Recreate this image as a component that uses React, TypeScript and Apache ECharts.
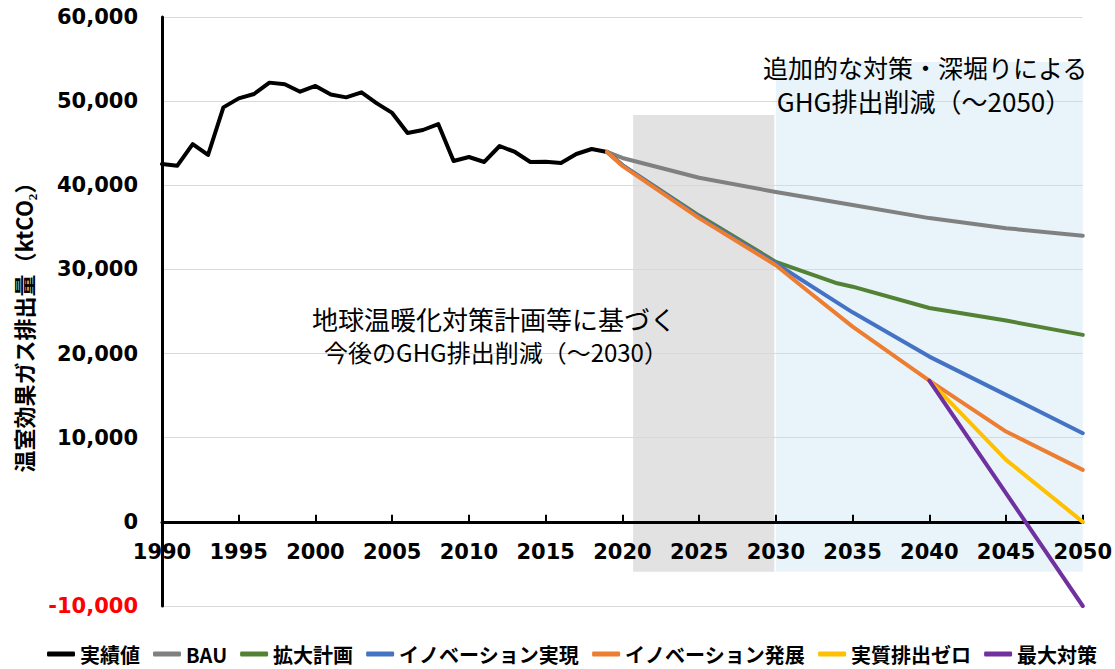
import React, { useEffect, useRef } from "react";
import * as echarts from "echarts";

// ---- data ----
const histYears = [1990, 1991, 1992, 1993, 1994, 1995, 1996, 1997, 1998, 1999, 2000, 2001, 2002, 2003, 2004, 2005, 2006, 2007, 2008, 2009, 2010, 2011, 2012, 2013, 2014, 2015, 2016, 2017, 2018, 2019];
const histValues = [42520, 42330, 44900, 43600, 49260, 50330, 50850, 52200, 52000, 51120, 51800, 50800, 50450, 51050, 49740, 48600, 46210, 46570, 47280, 42890, 43360, 42770, 44670, 43960, 42770, 42800, 42650, 43720, 44310, 43960];

const bauYears = [2019, 2020, 2025, 2030, 2035, 2040, 2045, 2050];
const bauValues = [43960, 43250, 40900, 39200, 37660, 36100, 34900, 34010];

const expandYears = [2019, 2020, 2025, 2030, 2034, 2035, 2040, 2045, 2050];
const expandValues = [43960, 42400, 36400, 30900, 28350, 27950, 25420, 23920, 22220];

const innovRealYears = [2019, 2020, 2025, 2030, 2035, 2040, 2045, 2050];
const innovRealValues = [43960, 42400, 36250, 30700, 24900, 19640, 15090, 10540];

const innovDevYears = [2019, 2020, 2025, 2030, 2032, 2035, 2040, 2045, 2050];
const innovDevValues = [43960, 42300, 36100, 30500, 27560, 23200, 16790, 10730, 6180];

const netZeroYears = [2040, 2045, 2050];
const netZeroValues = [16790, 7370, 0];

const maxYears = [2040, 2050];
const maxValues = [16790, -10000];

const seriesNames = ["実績値", "BAU", "拡大計画", "イノベーション実現", "イノベーション発展", "実質排出ゼロ", "最大対策"];
const seriesColors = ["#000000", "#808080", "#548235", "#4472c4", "#ed7d31", "#ffc000", "#7030a0"];

const yTicks = { min: -10000, max: 60000, interval: 10000 };
const xTicks = { min: 1990, max: 2050, interval: 5 };

const annotationLeft = ["地球温暖化対策計画等に基づく", "今後のGHG排出削減（～2030）"];
const annotationRight = ["追加的な対策・深堀りによる", "GHG排出削減（～2050）"];
const yAxisTitle = "温室効果ガス排出量（ktCO₂）";

// shaded periods [x0, y0, x1, y1] in data units
const nearTermPeriod = [2020.7, 48350, 2029.9, -5940];
const longTermPeriod = [2030.0, 54650, 2050.25, -5940];

const pairs = (xs: number[], ys: number[]) => xs.map((x, i) => [x, ys[i]]);

export default function App() {
  const ref = useRef<HTMLDivElement>(null);
  useEffect(() => {
    if (!ref.current) return;
    const chart = echarts.init(ref.current, null, { renderer: "svg" });
    const dataSets = [
      pairs(histYears, histValues),
      pairs(bauYears, bauValues),
      pairs(expandYears, expandValues),
      pairs(innovRealYears, innovRealValues),
      pairs(innovDevYears, innovDevValues),
      pairs(netZeroYears, netZeroValues),
      pairs(maxYears, maxValues),
    ];
    const lineSeries = dataSets.map((d, i) => ({
      name: seriesNames[i],
      type: "line",
      data: d,
      showSymbol: false,
      symbol: "none",
      z: 3,
      clip: false,
      lineStyle: { color: seriesColors[i], width: 4, join: "round", cap: "round" },
      itemStyle: { color: seriesColors[i] },
    }));
    const gridTop = 17;
    const gridBottom = 63;
    const plotH = 669 - gridTop - gridBottom;
    const zeroOffset = -plotH * (0 - yTicks.min) / (yTicks.max - yTicks.min);
    const option: any = {
      animation: false,
      grid: { left: 162, right: 29, top: gridTop, bottom: gridBottom },
      xAxis: {
        type: "value",
        min: xTicks.min,
        max: xTicks.max,
        interval: xTicks.interval,
        position: "bottom",
        offset: zeroOffset,
        z: 2,
        axisLine: { show: true, onZero: false, lineStyle: { color: "#000", width: 3 } },
        axisTick: { show: true, inside: true, length: 7, lineStyle: { color: "#000", width: 2 } },
        splitLine: { show: false },
        axisLabel: {
          margin: 20,
          color: "#000",
          fontFamily: "DejaVu Sans",
          fontWeight: "bold",
          fontSize: 21,
          showMinLabel: true,
          showMaxLabel: true,
          formatter: (v: number) => String(v),
        },
      },
      yAxis: {
        type: "value",
        min: yTicks.min,
        max: yTicks.max,
        interval: yTicks.interval,
        z: 2,
        axisLine: { show: true, onZero: false, lineStyle: { color: "#000", width: 3 } },
        axisTick: { show: false },
        splitLine: { show: true, lineStyle: { color: "#d9d9d9", width: 1 } },
        axisLabel: {
          margin: 24,
          fontFamily: "DejaVu Sans",
          fontWeight: "bold",
          fontSize: 21,
          color: (v: any) => (Number(v) < 0 ? "#ff0000" : "#000000"),
          formatter: (v: number) => v.toLocaleString("en-US"),
        },
      },
      legend: {
        left: 42,
        top: 639,
        width: 1073,
        icon: "roundRect",
        itemWidth: 28,
        itemHeight: 5,
        itemGap: 13,
        data: seriesNames,
        textStyle: {
          fontFamily: "Noto Sans CJK JP",
          fontWeight: "bold",
          fontSize: 20,
          color: "#000",
        },
      },
      series: [
        {
          name: "__areas",
          type: "line",
          data: [],
          z: 1,
          silent: true,
          markArea: {
            silent: true,
            z: 1,
            data: [
              [
                { xAxis: nearTermPeriod[0], yAxis: nearTermPeriod[1], itemStyle: { color: "#e2e2e2" } },
                { xAxis: nearTermPeriod[2], yAxis: nearTermPeriod[3] },
              ],
              [
                { xAxis: longTermPeriod[0], yAxis: longTermPeriod[1], itemStyle: { color: "#e8f4f9" } },
                { xAxis: longTermPeriod[2], yAxis: longTermPeriod[3] },
              ],
            ],
          },
        },
        ...lineSeries,
      ],
      graphic: [
        {
          type: "text",
          x: 23,
          y: 322,
          rotation: Math.PI / 2,
          z: 10,
          style: {
            text: yAxisTitle,
            fontFamily: "Noto Sans CJK JP",
            fontWeight: "bold",
            fontSize: 22,
            fill: "#000",
            align: "center",
            verticalAlign: "middle",
          },
        },
        {
          type: "text",
          x: 494,
          y: 318,
          z: 10,
          style: { text: annotationLeft[0], fontFamily: "Noto Sans CJK JP", fontSize: 26, fill: "#000", align: "center", verticalAlign: "middle" },
        },
        {
          type: "text",
          x: 496,
          y: 351,
          z: 10,
          style: { text: annotationLeft[1], fontFamily: "Noto Sans CJK JP", fontSize: 24, fill: "#000", align: "center", verticalAlign: "middle" },
        },
        {
          type: "text",
          x: 925,
          y: 67,
          z: 10,
          style: { text: annotationRight[0], fontFamily: "Noto Sans CJK JP", fontSize: 25, fill: "#000", align: "center", verticalAlign: "middle" },
        },
        {
          type: "text",
          x: 924,
          y: 100,
          z: 10,
          style: { text: annotationRight[1], fontFamily: "Noto Sans CJK JP", fontSize: 26, fill: "#000", align: "center", verticalAlign: "middle" },
        },
      ],
    };
    chart.setOption(option);
    return () => chart.dispose();
  }, []);
  return <div ref={ref} style={{ position: "fixed", left: 0, top: 0, width: 1115, height: 669, background: "#fff" }} />;
}
